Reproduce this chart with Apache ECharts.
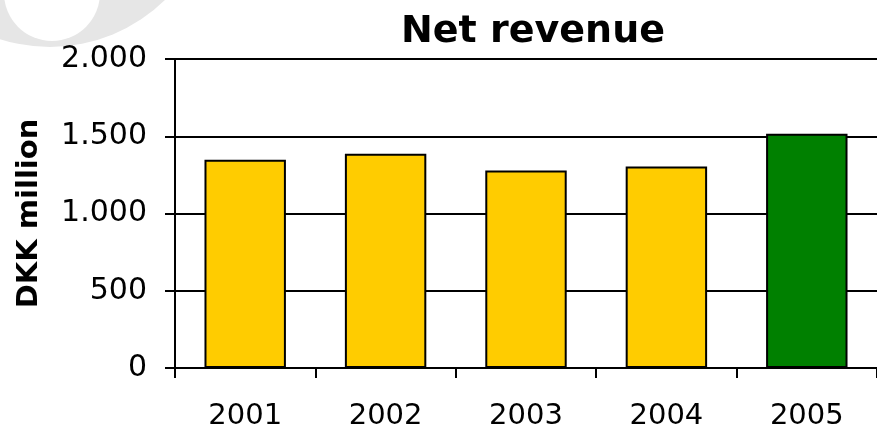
<!DOCTYPE html>
<html>
<head>
<meta charset="utf-8">
<script src="https://cdn.jsdelivr.net/npm/echarts@6/dist/echarts.min.js"></script>
<style>html,body{margin:0;padding:0;background:#fff}#c{width:877px;height:431px}</style>
</head>
<body>
<div id="c"></div>
<script>
const categories = ['2001', '2002', '2003', '2004', '2005'];
const netRevenue = [1348, 1387, 1279, 1305, 1516];
const yTicks = [0, 500, 1000, 1500, 2000];
const barColors = ['#FFCC00', '#FFCC00', '#FFCC00', '#FFCC00', '#008000'];

const chart = echarts.init(document.getElementById('c'), null, {renderer: 'canvas'});
const fmt = v => v >= 1000 ? Math.floor(v / 1000) + '.' + String(v % 1000).padStart(3, '0') : String(v);

chart.setOption({
  animation: false,
  backgroundColor: '#fff',
  graphic: [
    {type: 'circle', shape: {cx: 50, cy: -117, r: 164}, style: {fill: '#e6e6e6'}, z: -10},
    {type: 'circle', shape: {cx: 52, cy: -7, r: 48}, style: {fill: '#ffffff'}, z: -9}
  ],
  title: {
    text: 'Net revenue',
    left: 528, textAlign: 'center', top: 8,
    textStyle: {fontFamily: 'DejaVu Sans', fontWeight: 'bold', fontSize: 38, color: '#000'}
  },
  grid: {left: 175, right: -2, top: 59, bottom: 62, containLabel: false},
  xAxis: {
    type: 'category',
    data: categories,
    axisLine: {show: true, lineStyle: {color: '#000', width: 2}},
    axisTick: {show: true, length: 10, lineStyle: {color: '#000', width: 2}},
    axisLabel: {fontFamily: 'DejaVu Sans', fontSize: 29, color: '#000', margin: 34},
    splitLine: {show: false}
  },
  yAxis: {
    type: 'value',
    min: 0, max: 2000, interval: 500,
    name: 'DKK million',
    nameLocation: 'middle',
    nameGap: 131,
    nameRotate: 90,
    nameTextStyle: {fontFamily: 'DejaVu Sans', fontWeight: 'bold', fontSize: 29, color: '#000'},
    axisLine: {show: true, lineStyle: {color: '#000', width: 2}},
    axisTick: {show: true, length: 10, lineStyle: {color: '#000', width: 2}},
    axisLabel: {fontFamily: 'DejaVu Sans', fontSize: 30, color: '#000', margin: 28,
      padding: [14, 0, 0, 0],
      formatter: v => yTicks.includes(v) ? fmt(v) : ''},
    splitLine: {show: true, lineStyle: {color: '#000', width: 2}}
  },
  series: [{
    type: 'bar',
    data: netRevenue.map((v, i) => ({value: v, itemStyle: {color: barColors[i]}})),
    barWidth: '58%',
    itemStyle: {borderColor: '#000', borderWidth: 2}
  }]
});
</script>
</body>
</html>
